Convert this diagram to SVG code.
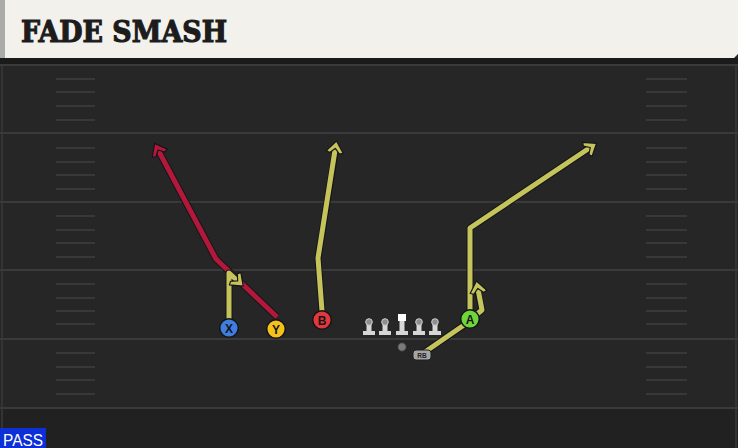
<svg xmlns="http://www.w3.org/2000/svg" width="738" height="448" viewBox="0 0 738 448">
<style>
.hash{stroke:#383838;stroke-width:2px;}
.yard{stroke:#3a3a3a;stroke-width:2.2px;}
.out{fill:none;stroke:#15151c;stroke-width:7px;stroke-linejoin:round;stroke-linecap:butt;}
.ry{fill:none;stroke:#c5c45a;stroke-width:5px;stroke-linejoin:round;stroke-linecap:butt;}
.rr{fill:none;stroke:#b2183a;stroke-width:5px;stroke-linejoin:round;stroke-linecap:butt;}
.pl{stroke:#151515;stroke-width:1.5px;}
.lt{font-family:"Liberation Sans",Arial,sans-serif;font-weight:bold;font-size:12px;fill:#151515;text-anchor:middle;}
.ol{fill:#d6d6d6;}
</style>
<defs>
<marker id="ay" markerUnits="userSpaceOnUse" markerWidth="26" markerHeight="26" viewBox="-13 -13 26 26" refX="0" refY="0" orient="auto" overflow="visible">
<path d="M3,0 L-8,-8.5 L-9.5,-5 L-4.5,0 L-9.5,5 L-8,8.5 Z" fill="#c5c45a" stroke="#15151c" stroke-width="1.2" stroke-linejoin="round"/>
</marker>
<marker id="ar" markerUnits="userSpaceOnUse" markerWidth="26" markerHeight="26" viewBox="-13 -13 26 26" refX="0" refY="0" orient="auto" overflow="visible">
<path d="M3,0 L-8,-8.5 L-9.5,-5 L-4.5,0 L-9.5,5 L-8,8.5 Z" fill="#b2183a" stroke="#15151c" stroke-width="1.2" stroke-linejoin="round"/>
</marker>
<g id="lineman">
<rect x="-6" y="1" width="12" height="4" class="ol"/>
<rect x="-2.5" y="-8" width="5" height="10" class="ol"/>
<circle cx="0" cy="-8" r="3.3" fill="#8e8e8e" stroke="#cfcfcf" stroke-width="1"/>
</g>
</defs>

<!-- field -->
<rect x="0" y="0" width="738" height="448" fill="#262626"/>
<rect x="0" y="408" width="738" height="40" fill="#212121"/>
<rect x="0" y="58" width="738" height="6" fill="#1a1a1a"/>
<line x1="2" y1="64" x2="2" y2="448" stroke="#3a3a3a" stroke-width="1.5"/>
<line x1="736" y1="64" x2="736" y2="448" stroke="#3a3a3a" stroke-width="1.5"/>
<g id="yardlines">
<line class="yard" x1="0" y1="65" x2="738" y2="65"/>
<line class="yard" x1="0" y1="133" x2="738" y2="133"/>
<line class="yard" x1="0" y1="202" x2="738" y2="202"/>
<line class="yard" x1="0" y1="270" x2="738" y2="270"/>
<line class="yard" x1="0" y1="339" x2="738" y2="339"/>
<line class="yard" x1="0" y1="408" x2="738" y2="408"/>
</g>
<g id="hashes">
<path class="hash" d="M56,79H95M56,92H95M56,106H95M56,120H95M56,148H95M56,162H95M56,175H95M56,189H95M56,216H95M56,230H95M56,243H95M56,257H95M56,284H95M56,298H95M56,311H95M56,324H95M56,353H95M56,367H95M56,380H95M56,394H95"/>
<path class="hash" d="M646,79H687M646,92H687M646,106H687M646,120H687M646,148H687M646,162H687M646,175H687M646,189H687M646,216H687M646,230H687M646,243H687M646,257H687M646,284H687M646,298H687M646,311H687M646,324H687M646,353H687M646,367H687M646,380H687M646,394H687"/>
</g>

<!-- header -->
<g id="header">
<path d="M0,0 H738 V54 L734,58 H0 Z" fill="#f3f1ec"/>
<rect x="0" y="0" width="5" height="58" fill="#a9aba8"/>
<text x="21" y="42" font-family="'DejaVu Serif','Liberation Serif',serif" font-weight="bold" font-size="30" fill="#1c1c1c" stroke="#1c1c1c" stroke-width="1.2" textLength="206" lengthAdjust="spacingAndGlyphs">FADE SMASH</text>
</g>

<!-- connectors -->
<g id="routes">
<path class="out" d="M277,317 L216,259 L157,148"/>
<path class="rr" d="M277,317 L216,259 L156,146" marker-end="url(#ar)"/>
<path class="out" d="M229,320 V273 L239,282"/>
<path class="ry" d="M229,320 V273 L241,284" marker-end="url(#ay)"/>
<path class="out" d="M322,311 L318,258 L336,147"/>
<path class="ry" d="M322,311 L318,258 L336,144" marker-end="url(#ay)"/>
<path class="out" d="M470,311 V228 L591,147"/>
<path class="ry" d="M470,311 V228 L594,145" marker-end="url(#ay)"/>
<path class="out" d="M422,354 L464,325 L482,310 L477,287"/>
<path class="ry" d="M422,354 L464,325 L482,310 L477,284" marker-end="url(#ay)"/>
</g>

<!-- players -->
<g id="X"><circle cx="229" cy="328" r="9.3" fill="#3f7de0" class="pl"/><text x="229" y="332.5" class="lt">X</text></g>
<g id="Y"><circle cx="276" cy="329" r="9.3" fill="#f4c21b" class="pl"/><text x="276" y="333.5" class="lt">Y</text></g>
<g id="B"><circle cx="322" cy="320" r="9.3" fill="#e2383d" class="pl"/><text x="322" y="324.5" class="lt">B</text></g>
<g id="A"><circle cx="470" cy="319" r="9.3" fill="#6ed53a" class="pl"/><text x="470" y="323.5" class="lt">A</text></g>
<g id="LT"><use href="#lineman" x="369" y="330"/></g>
<g id="LG"><use href="#lineman" x="385" y="330"/></g>
<g id="C">
<rect x="396" y="331" width="12" height="4" class="ol"/>
<rect x="399.5" y="320" width="5" height="12" class="ol"/>
<rect x="398" y="314" width="8" height="7" fill="#ffffff"/>
</g>
<g id="RG"><use href="#lineman" x="419" y="330"/></g>
<g id="RT"><use href="#lineman" x="435" y="330"/></g>
<g id="QB"><circle cx="402" cy="347" r="4.2" fill="#7a7a7a" stroke="#333" stroke-width="0.8"/></g>
<g id="RB"><rect x="413" y="350" width="18" height="10" rx="3" fill="#a5a5a5" stroke="#1e1e1e" stroke-width="1"/><text x="422" y="358" font-family="'Liberation Sans',Arial,sans-serif" font-size="6.5" font-weight="bold" fill="#222" text-anchor="middle">RB</text></g>

<!-- PASS tag -->
<g id="pass">
<rect x="0" y="428" width="46" height="20" fill="#0c2fd8"/>
<text x="3" y="446" font-family="'Liberation Sans',Arial,sans-serif" font-size="16" fill="#ffffff" textLength="40" lengthAdjust="spacingAndGlyphs">PASS</text>
</g>
</svg>
